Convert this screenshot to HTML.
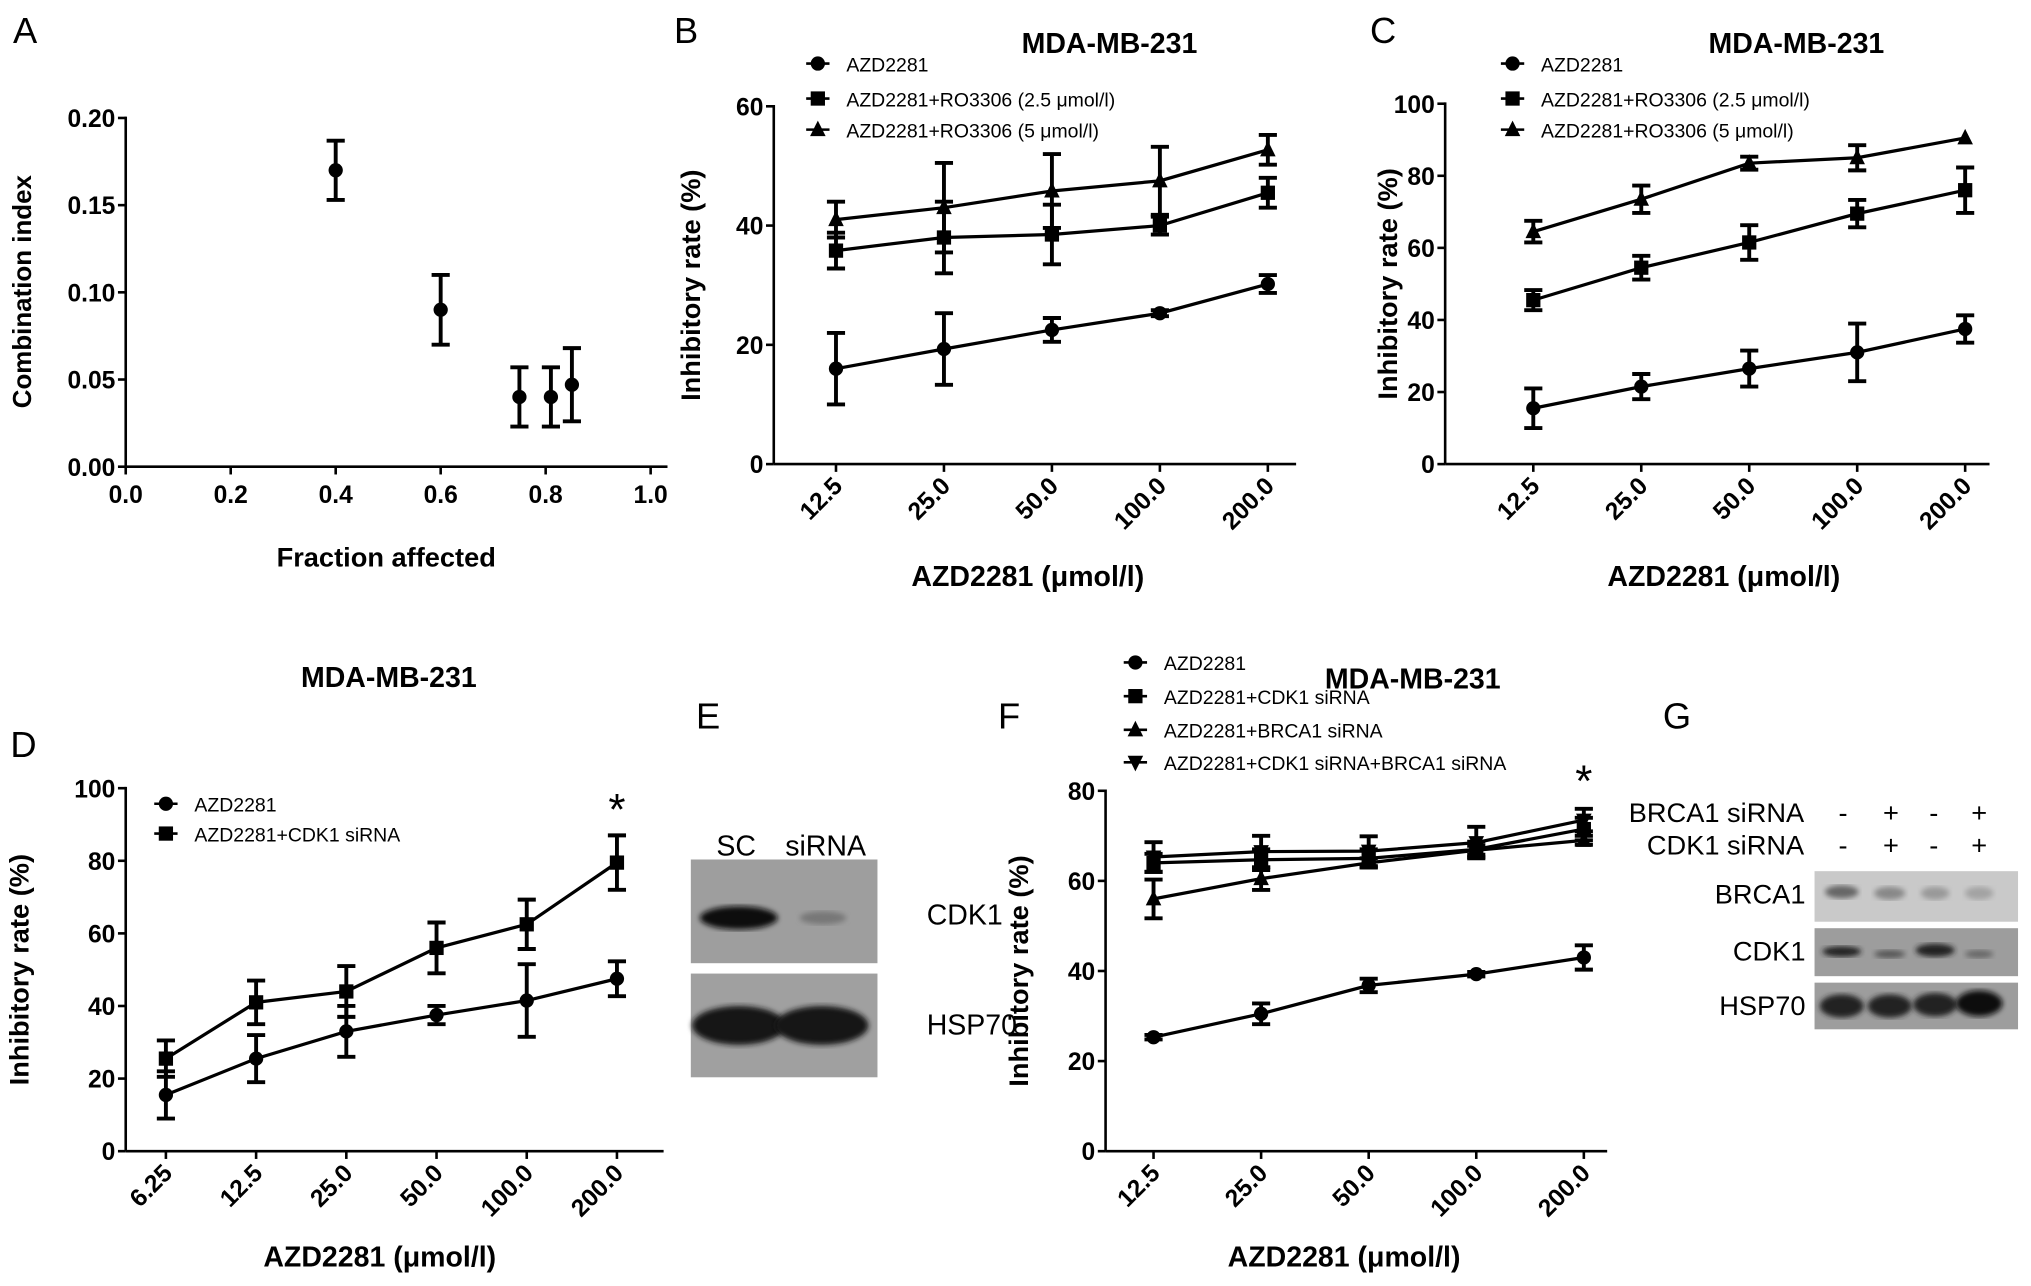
<!DOCTYPE html>
<html><head><meta charset="utf-8"><style>
html,body{margin:0;padding:0;background:#fff;}
svg{display:block;}
text{font-family:"Liberation Sans Narrow","Liberation Sans",sans-serif;fill:#000;}
.b{font-weight:bold;}
</style></head><body>
<svg id="fig" width="2031" height="1286" viewBox="0 0 1567 992" preserveAspectRatio="none">
<defs>
<filter id="blur2"><feGaussianBlur stdDeviation="2"/></filter>
</defs>
<text x="10" y="33" font-size="28">A</text>
<text x="520" y="33" font-size="28">B</text>
<text x="1057" y="33" font-size="28">C</text>
<text x="8" y="584" font-size="28">D</text>
<text x="537" y="562" font-size="28">E</text>
<text x="770" y="562" font-size="28">F</text>
<text x="1283" y="562" font-size="28">G</text>

<g>
<text x="568" y="660" font-size="22" text-anchor="middle">SC</text>
<text x="637" y="660" font-size="22" text-anchor="middle">siRNA</text>
<rect x="533" y="663" width="144" height="80" fill="#9e9e9e"/>
<ellipse cx="570" cy="708" rx="30" ry="9" fill="#111" filter="url(#blur2)"/>
<ellipse cx="635" cy="708" rx="18" ry="5" fill="#777" filter="url(#blur2)"/>
<rect x="533" y="751" width="144" height="80" fill="#a0a0a0"/>
<ellipse cx="570" cy="791" rx="36" ry="15" fill="#151515" filter="url(#blur2)"/>
<ellipse cx="634" cy="791" rx="36" ry="15" fill="#151515" filter="url(#blur2)"/>
<text x="715" y="713" font-size="22" text-anchor="start">CDK1</text>
<text x="715" y="798" font-size="22" text-anchor="start">HSP70</text>
</g>

<g>
<text x="1392" y="634" font-size="21" text-anchor="end">BRCA1 siRNA</text>
<text x="1392" y="659" font-size="21" text-anchor="end">CDK1 siRNA</text>
<g font-size="21" text-anchor="middle">
<text x="1422" y="634">-</text><text x="1459" y="634">+</text><text x="1492" y="634">-</text><text x="1527" y="634">+</text>
<text x="1422" y="659">-</text><text x="1459" y="659">+</text><text x="1492" y="659">-</text><text x="1527" y="659">+</text>
</g>
<rect x="1400" y="672" width="157" height="39" fill="#c9c9c9"/>
<ellipse cx="1421" cy="688" rx="13" ry="5" fill="#666" filter="url(#blur2)"/>
<ellipse cx="1458" cy="689" rx="12" ry="5" fill="#888" filter="url(#blur2)"/>
<ellipse cx="1493" cy="689" rx="11" ry="5" fill="#999" filter="url(#blur2)"/>
<ellipse cx="1527" cy="689" rx="11" ry="5" fill="#a3a3a3" filter="url(#blur2)"/>
<rect x="1400" y="716" width="157" height="37" fill="#9d9d9d"/>
<ellipse cx="1421" cy="734" rx="15" ry="4" fill="#222" filter="url(#blur2)"/>
<ellipse cx="1458" cy="736" rx="12" ry="3" fill="#555" filter="url(#blur2)"/>
<ellipse cx="1493" cy="733" rx="15" ry="5" fill="#222" filter="url(#blur2)"/>
<ellipse cx="1527" cy="736" rx="11" ry="3" fill="#666" filter="url(#blur2)"/>
<rect x="1400" y="758" width="157" height="36" fill="#9d9d9d"/>
<ellipse cx="1421" cy="776" rx="17" ry="9" fill="#222" filter="url(#blur2)"/>
<ellipse cx="1458" cy="776" rx="17" ry="9" fill="#222" filter="url(#blur2)"/>
<ellipse cx="1493" cy="775" rx="17" ry="9" fill="#222" filter="url(#blur2)"/>
<ellipse cx="1527" cy="774" rx="18" ry="10" fill="#111" filter="url(#blur2)"/>
<text x="1393" y="697" font-size="21" text-anchor="end">BRCA1</text>
<text x="1393" y="741" font-size="21" text-anchor="end">CDK1</text>
<text x="1393" y="783" font-size="21" text-anchor="end">HSP70</text>
</g>
</svg>
<script>
const aFa = [0.4, 0.6, 0.75, 0.81, 0.85];
const aCI = [0.17, 0.09, 0.04, 0.04, 0.047];
const aErr = [0.017, 0.02, 0.017, 0.017, 0.021];
const aXTicks = [0.0, 0.2, 0.4, 0.6, 0.8, 1.0];
const aYTicks = [0.00, 0.05, 0.10, 0.15, 0.20];
const bCats = ["12.5", "25.0", "50.0", "100.0", "200.0"];
const bAzd = [16, 19.3, 22.5, 25.3, 30.2];
const bAzdErr = [6, 6, 2, 0.5, 1.5];
const bRo25 = [35.8, 38, 38.5, 40, 45.5];
const bRo25Err = [3, 6, 5, 1.5, 2.5];
const bRo5 = [41, 43, 45.8, 47.5, 52.7];
const bRo5Err = [3, 7.5, 6.2, 5.7, 2.5];
const bYTicks = [0, 20, 40, 60];
const cCats = ["12.5", "25.0", "50.0", "100.0", "200.0"];
const cAzd = [15.5, 21.5, 26.5, 31, 37.5];
const cAzdErr = [5.5, 3.5, 5, 8, 3.8];
const cRo25 = [45.5, 54.5, 61.5, 69.5, 76];
const cRo25Err = [2.8, 3.3, 4.8, 3.8, 6.3];
const cRo5 = [64.5, 73.5, 83.5, 85, 90.5];
const cRo5Err = [3, 3.8, 1.8, 3.5, 0];
const cYTicks = [0, 20, 40, 60, 80, 100];
const dCats = ["6.25", "12.5", "25.0", "50.0", "100.0", "200.0"];
const dAzd = [15.5, 25.5, 33, 37.5, 41.5, 47.5];
const dAzdErr = [6.5, 6.5, 7, 2.5, 10, 4.8];
const dCdk = [25.5, 41, 44, 56, 62.5, 79.5];
const dCdkErr = [5, 6, 7, 7, 6.8, 7.5];
const dYTicks = [0, 20, 40, 60, 80, 100];
const fCats = ["12.5", "25.0", "50.0", "100.0", "200.0"];
const fAzd = [25.3, 30.5, 36.8, 39.3, 43];
const fAzdErr = [0.5, 2.3, 1.5, 0.5, 2.7];
const fCdk = [64, 64.7, 65, 67, 71.5];
const fCdkErr = [2, 2.3, 2, 1.7, 2.5];
const fBrca = [56, 60.5, 64, 66.8, 69];
const fBrcaErr = [4.3, 2.5, 1, 1, 1];
const fBoth = [65.3, 66.5, 66.6, 68.5, 73.5];
const fBothErr = [3.3, 3.5, 3.3, 3.5, 2.5];
const fYTicks = [0, 20, 40, 60, 80];

const NS = "http://www.w3.org/2000/svg";
const svg = document.getElementById("fig");
function el(tag, attrs, parent, txt) {
  const e = document.createElementNS(NS, tag);
  for (const k in attrs) e.setAttribute(k, attrs[k]);
  if (txt !== undefined) e.textContent = txt;
  (parent || svg).appendChild(e);
  return e;
}
function marker(g, shape, x, y) {
  if (shape === "circle") return el("circle", {cx: x, cy: y, r: 5.5, fill: "#000"}, g);
  if (shape === "square") return el("rect", {x: x - 5.5, y: y - 5.5, width: 11, height: 11, fill: "#000"}, g);
  if (shape === "tri") return el("polygon", {points: `${x},${y - 7} ${x - 6},${y + 5} ${x + 6},${y + 5}`, fill: "#000"}, g);
  return el("polygon", {points: `${x},${y + 7} ${x - 6},${y - 5} ${x + 6},${y - 5}`, fill: "#000"}, g);
}
function errbar(g, x, y1, y2) {
  el("line", {x1: x, x2: x, y1: y1, y2: y2, stroke: "#000", "stroke-width": 3}, g);
  el("line", {x1: x - 7, x2: x + 7, y1: y1, y2: y1, stroke: "#000", "stroke-width": 3}, g);
  el("line", {x1: x - 7, x2: x + 7, y1: y2, y2: y2, stroke: "#000", "stroke-width": 3}, g);
}
function yAxis(g, x0, yTop, yBot, ticks, ymax, fmt) {
  el("line", {x1: x0, x2: x0, y1: yTop - 1, y2: yBot, stroke: "#000", "stroke-width": 2}, g);
  ticks.forEach(t => {
    const y = yBot - (t / ymax) * (yBot - yTop);
    el("line", {x1: x0 - 6, x2: x0, y1: y, y2: y, stroke: "#000", "stroke-width": 2}, g);
    const lab = el("text", {x: x0 - 8, y: y + 7, "font-size": 19, "text-anchor": "end", class: "b"}, g, fmt(t));
    
    
  });
}
function catPanel(opt) {
  const g = el("g", {});
  
  
  const ys = v => opt.yBot - (v / opt.ymax) * (opt.yBot - opt.yTop);
  const xs = i => opt.x0c + i * opt.dx;
  yAxis(g, opt.x0, opt.yTop, opt.yBot, opt.yTicks, opt.ymax, t => String(t));
  el("line", {x1: opt.x0, x2: opt.xEnd, y1: opt.yBot, y2: opt.yBot, stroke: "#000", "stroke-width": 2}, g);
  opt.cats.forEach((c, i) => {
    const x = xs(i);
    el("line", {x1: x, x2: x, y1: opt.yBot, y2: opt.yBot + 6, stroke: "#000", "stroke-width": 2}, g);
    const t = el("text", {x: x + 6, y: opt.yBot + 18, "font-size": 19, "text-anchor": "end", class: "b", transform: `rotate(-45 ${x + 6} ${opt.yBot + 18})`}, g, c);
    
    
  });
  opt.series.forEach(s => {
    const sg = el("g", {}, g);
    
    
    const pts = s.vals.map((v, i) => `${xs(i)},${ys(v)}`).join(" ");
    el("polyline", {points: pts, fill: "none", stroke: "#000", "stroke-width": 2.5}, sg);
    s.vals.forEach((v, i) => {
      if (s.err[i] > 0) errbar(sg, xs(i), ys(v + s.err[i]), ys(v - s.err[i]));
      marker(sg, s.shape, xs(i), ys(v));
    });
  });
  opt.series.forEach((s, i) => {
    const ly = opt.legY[i];
    const lg = el("g", {}, g);
    
    
    el("line", {x1: opt.legX - 9, x2: opt.legX + 9, y1: ly, y2: ly, stroke: "#000", "stroke-width": 2}, lg);
    marker(lg, s.shape, opt.legX, ly);
    el("text", {x: opt.legX + 22, y: ly + 6, "font-size": 15}, lg, s.label);
  });
  const tt = el("text", {x: opt.titleX, y: opt.titleY, "font-size": 22, "text-anchor": "middle", class: "b"}, g, "MDA-MB-231");
  
  
  const xl = el("text", {x: opt.xlX, y: opt.xlY, "font-size": 22, "text-anchor": "middle", class: "b"}, g, "AZD2281 (\u03bcmol/l)");
  
  
  const cy = (opt.yTop + opt.yBot) / 2;
  const yl = el("text", {x: opt.ylX, y: cy, "font-size": 21, "text-anchor": "middle", class: "b", "font-family": "Liberation Sans, sans-serif", transform: `rotate(-90 ${opt.ylX} ${cy})`}, g, "Inhibitory rate (%)");
  
  
  if (opt.star) {
    const st = el("text", {x: xs(opt.cats.length - 1), y: opt.starY, "font-size": 34, "text-anchor": "middle"}, g, "*");
    
    
  }
}

(function () {
  const g = el("g", {});
  
  
  const x0 = 97, yTop = 91, yBot = 360, xw = 405;
  const xs = v => x0 + v * xw;
  const ys = v => yBot - (v / 0.2) * (yBot - yTop);
  yAxis(g, x0, yTop, yBot, aYTicks, 0.2, t => t.toFixed(2));
  el("line", {x1: x0, x2: 515, y1: yBot, y2: yBot, stroke: "#000", "stroke-width": 2}, g);
  aXTicks.forEach(t => {
    const x = xs(t);
    el("line", {x1: x, x2: x, y1: yBot, y2: yBot + 6, stroke: "#000", "stroke-width": 2}, g);
    const lab = el("text", {x: x, y: yBot + 28, "font-size": 19, "text-anchor": "middle", class: "b"}, g, t.toFixed(1));
    
    
  });
  aFa.forEach((f, i) => {
    const pg = el("g", {}, g);
    
    
    errbar(pg, xs(f), ys(aCI[i] + aErr[i]), ys(aCI[i] - aErr[i]));
    marker(pg, "circle", xs(f), ys(aCI[i]));
  });
  const xl = el("text", {x: 298, y: 437, "font-size": 21, "text-anchor": "middle", class: "b"}, g, "Fraction affected");
  
  
  const yl = el("text", {x: 24, y: 225, "font-size": 20, "text-anchor": "middle", class: "b", "font-family": "Liberation Sans, sans-serif", transform: "rotate(-90 24 225)"}, g, "Combination index");
  
  
})();

catPanel({name: "panel-b-chart", x0: 597, yTop: 82, yBot: 358, ymax: 60, yTicks: bYTicks, x0c: 645, dx: 83.3, xEnd: 1000, cats: bCats,
  series: [
    {name: "series-azd2281", label: "AZD2281", shape: "circle", vals: bAzd, err: bAzdErr},
    {name: "series-ro3306-2-5", label: "AZD2281+RO3306 (2.5 \u03bcmol/l)", shape: "square", vals: bRo25, err: bRo25Err},
    {name: "series-ro3306-5", label: "AZD2281+RO3306 (5 \u03bcmol/l)", shape: "tri", vals: bRo5, err: bRo5Err}],
  legX: 631, legY: [49, 76, 100], titleX: 856, titleY: 41, xlX: 793, xlY: 452, ylX: 540});

catPanel({name: "panel-c-chart", x0: 1115, yTop: 80, yBot: 358, ymax: 100, yTicks: cYTicks, x0c: 1183, dx: 83.3, xEnd: 1535, cats: cCats,
  series: [
    {name: "series-azd2281", label: "AZD2281", shape: "circle", vals: cAzd, err: cAzdErr},
    {name: "series-ro3306-2-5", label: "AZD2281+RO3306 (2.5 \u03bcmol/l)", shape: "square", vals: cRo25, err: cRo25Err},
    {name: "series-ro3306-5", label: "AZD2281+RO3306 (5 \u03bcmol/l)", shape: "tri", vals: cRo5, err: cRo5Err}],
  legX: 1167, legY: [49, 76, 100], titleX: 1386, titleY: 41, xlX: 1330, xlY: 452, ylX: 1078});

catPanel({name: "panel-d-chart", x0: 97, yTop: 608, yBot: 888, ymax: 100, yTicks: dYTicks, x0c: 128, dx: 69.6, xEnd: 512, cats: dCats,
  series: [
    {name: "series-azd2281", label: "AZD2281", shape: "circle", vals: dAzd, err: dAzdErr},
    {name: "series-cdk1-sirna", label: "AZD2281+CDK1 siRNA", shape: "square", vals: dCdk, err: dCdkErr}],
  legX: 128, legY: [620, 643], titleX: 300, titleY: 530, xlX: 293, xlY: 977, ylX: 22, star: true, starY: 636});

catPanel({name: "panel-f-chart", x0: 853, yTop: 610, yBot: 888, ymax: 80, yTicks: fYTicks, x0c: 890, dx: 83, xEnd: 1240, cats: fCats,
  series: [
    {name: "series-azd2281", label: "AZD2281", shape: "circle", vals: fAzd, err: fAzdErr},
    {name: "series-cdk1-sirna", label: "AZD2281+CDK1 siRNA", shape: "square", vals: fCdk, err: fCdkErr},
    {name: "series-brca1-sirna", label: "AZD2281+BRCA1 siRNA", shape: "tri", vals: fBrca, err: fBrcaErr},
    {name: "series-cdk1-brca1-sirna", label: "AZD2281+CDK1 siRNA+BRCA1 siRNA", shape: "invtri", vals: fBoth, err: fBothErr}],
  legX: 876, legY: [511, 537, 563, 588], titleX: 1090, titleY: 531, xlX: 1037, xlY: 977, ylX: 793, star: true, starY: 614});
</script>
</body></html>
